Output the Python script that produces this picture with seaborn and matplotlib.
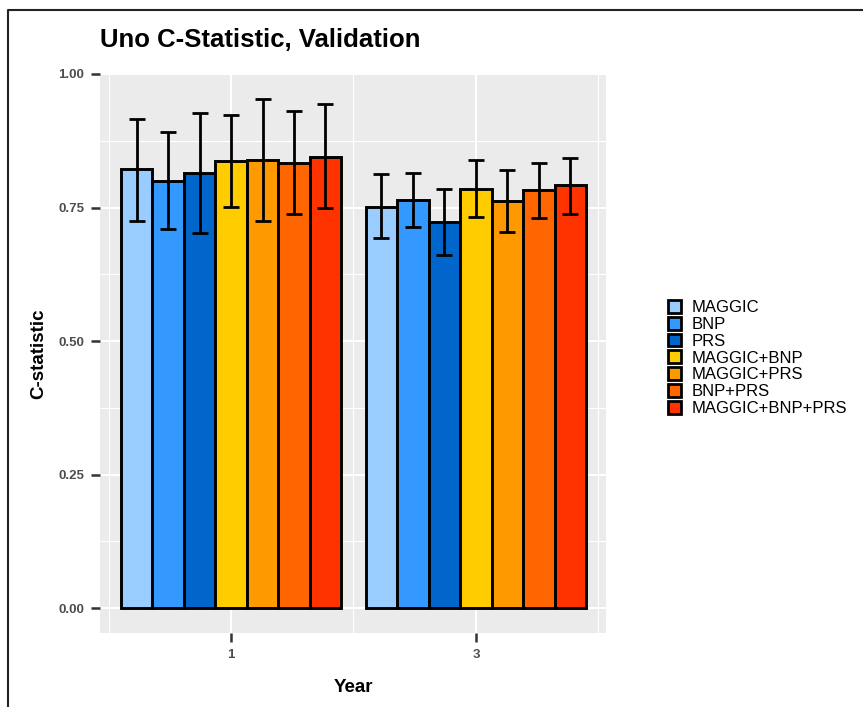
import pandas as pd
import numpy as np
import matplotlib
matplotlib.use('Agg')
import matplotlib.pyplot as plt
from matplotlib.patches import Patch
from matplotlib.lines import Line2D
import seaborn as sns

# ============================================================
# DATA
# ============================================================

years = ['1', '3']

models = [
    'MAGGIC',
    'BNP',
    'PRS',
    'MAGGIC+BNP',
    'MAGGIC+PRS',
    'BNP+PRS',
    'MAGGIC+BNP+PRS'
]

colors = [
    '#99CCFF',
    '#3399FF',
    '#0066CC',
    '#FFCC00',
    '#FF9900',
    '#FF6600',
    '#FF3300'
]

# C-statistic per model, [year 1, year 3]
cstat = {
    'MAGGIC':         [0.822, 0.751],
    'BNP':            [0.800, 0.764],
    'PRS':            [0.815, 0.723],
    'MAGGIC+BNP':     [0.837, 0.785],
    'MAGGIC+PRS':     [0.839, 0.763],
    'BNP+PRS':        [0.834, 0.783],
    'MAGGIC+BNP+PRS': [0.845, 0.793],
}

lower = {
    'MAGGIC':         [0.725, 0.692],
    'BNP':            [0.710, 0.714],
    'PRS':            [0.703, 0.662],
    'MAGGIC+BNP':     [0.751, 0.733],
    'MAGGIC+PRS':     [0.725, 0.705],
    'BNP+PRS':        [0.738, 0.731],
    'MAGGIC+BNP+PRS': [0.750, 0.738],
}

upper = {
    'MAGGIC':         [0.916, 0.813],
    'BNP':            [0.892, 0.815],
    'PRS':            [0.927, 0.785],
    'MAGGIC+BNP':     [0.923, 0.839],
    'MAGGIC+PRS':     [0.953, 0.821],
    'BNP+PRS':        [0.931, 0.834],
    'MAGGIC+BNP+PRS': [0.944, 0.843],
}

rows = []
for m in models:
    for i, y in enumerate(years):
        rows.append({'Year': y, 'Model': m, 'C': cstat[m][i]})
df = pd.DataFrame(rows)

# ============================================================
# STYLE
# ============================================================

sns.set_style('darkgrid', {
    'axes.facecolor': '#EBEBEB',
    'grid.color': 'white',
    'text.color': 'black',
    'axes.labelcolor': 'black',
})
plt.rcParams['font.family'] = ['Liberation Sans', 'DejaVu Sans']

fig = plt.figure(figsize=(8.63, 7.07), dpi=100)
ax = fig.add_axes([100 / 863, 1 - 633 / 707, 506 / 863, 559 / 707])

# ============================================================
# BARS
# ============================================================

sns.barplot(
    data=df,
    x='Year',
    y='C',
    hue='Model',
    order=years,
    hue_order=models,
    palette=colors,
    saturation=1,
    width=0.9,
    edgecolor='black',
    linewidth=2.1,
    errorbar=None,
    legend=False,
    ax=ax
)

for m, cont in zip(models, ax.containers):
    for i, bar in enumerate(cont):
        xc = bar.get_x() + bar.get_width() / 2
        h = bar.get_height()
        ax.errorbar(
            xc, h,
            yerr=[[h - lower[m][i]], [upper[m][i] - h]],
            fmt='none',
            ecolor='black',
            elinewidth=2.0,
            capsize=5.5,
            capthick=2.0,
            zorder=5
        )

# ============================================================
# AXES
# ============================================================

ax.set_xlim(-0.535, 1.531)
ax.set_ylim(-0.0467, 1.0)

ax.set_yticks([0, 0.25, 0.5, 0.75, 1.0])
ax.set_yticklabels(['0.00', '0.25', '0.50', '0.75', '1.00'])
ax.set_yticks([0.125, 0.375, 0.625, 0.875], minor=True)
ax.set_xticks([-0.5, 0.5, 1.5], minor=True)

ax.grid(which='major', color='white', linewidth=1.5)
ax.grid(which='minor', color='white', linewidth=0.8)
ax.set_axisbelow(True)

for s in ax.spines.values():
    s.set_visible(False)

ax.tick_params(axis='both', which='major', length=6.5, width=1.8,
               color='#333333', labelcolor='#4D4D4D', labelsize=9.5,
               pad=5, bottom=True, left=True)
ax.tick_params(axis='both', which='minor', length=0)
for lbl in ax.get_xticklabels() + ax.get_yticklabels():
    lbl.set_fontweight('bold')

ax.set_xlabel('Year', fontsize=13.5, fontweight='bold', labelpad=13)
ax.set_ylabel('C-statistic', fontsize=13.5, fontweight='bold', labelpad=8)

fig.text(100 / 863, 1 - 40 / 707, 'Uno C-Statistic, Validation',
         fontsize=18.5, fontweight='bold', va='center', ha='left',
         color='black')

# ============================================================
# LEGEND
# ============================================================

handles = [
    Patch(facecolor=c, edgecolor='black', linewidth=2.0, label=m)
    for m, c in zip(models, colors)
]
fig.legend(
    handles=handles,
    loc='center left',
    bbox_to_anchor=(668 / 863, 1 - 358 / 707),
    frameon=False,
    fontsize=12,
    labelcolor='black',
    handlelength=0.8,
    handleheight=0.8,
    handletextpad=0.6,
    labelspacing=0.1,
    borderpad=0,
    borderaxespad=0
)

# image frame (top and left edges)
fig.add_artist(Line2D([8 / 863, 8 / 863, 1.0], [0.0, 1 - 10 / 707, 1 - 10 / 707],
                      transform=fig.transFigure, color='#222222', linewidth=1.5))

plt.savefig('out.png', dpi=100)
plt.close()
